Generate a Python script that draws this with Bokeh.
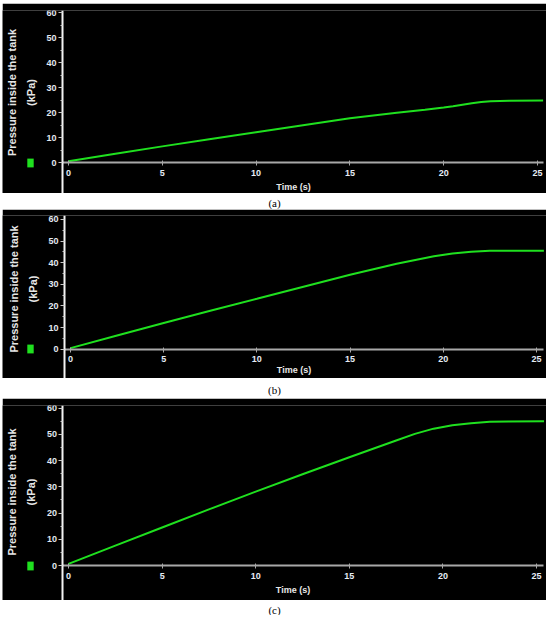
from bokeh.plotting import figure
from bokeh.layouts import column
from bokeh.models import Range1d, FixedTicker, Legend, LegendItem, LinearAxis
from bokeh.embed import file_html
from bokeh.resources import INLINE
from bokeh.core.properties import value

# ---- data ----
time_a = [0, 2.5, 5, 7.5, 10, 12.5, 15, 17.5, 19, 20, 20.5, 21, 21.5, 22, 22.5, 23.5, 25.3]
pressure_a = [0.5, 3.5, 6.5, 9.4, 12.2, 15.0, 17.8, 20.0, 21.2, 22.1, 22.6, 23.2, 23.8, 24.3, 24.6, 24.85, 24.9]

time_b = [0, 2.5, 5, 7.5, 10, 12.5, 15, 17.5, 18.5, 19.5, 20.5, 21.5, 22.5, 23.5, 25.4]
pressure_b = [0.5, 6.3, 12.1, 17.8, 23.3, 28.9, 34.4, 39.5, 41.3, 43.0, 44.3, 45.1, 45.5, 45.6, 45.6]

time_c = [0, 2.5, 5, 7.5, 10, 12.5, 15, 17.5, 18.5, 19.5, 20.5, 21.5, 22.5, 23.5, 25.4]
pressure_c = [0.6, 7.6, 14.5, 21.4, 28.2, 34.8, 41.3, 47.7, 50.2, 52.2, 53.5, 54.3, 54.8, 54.95, 55.0]

x_ticks = [0, 5, 10, 15, 20, 25]
y_ticks = [0, 10, 20, 30, 40, 50, 60]
y_minor_ticks = [5, 15, 25, 35, 45, 55]
captions = ["(a)", "(b)", "(c)"]
x_title = "Time (s)"
y_title = "Pressure inside the tank\n(kPa)"

GREEN = "#1fe01f"
W = 544
FONT = "Liberation Sans"


def panel(t, pr, height, top, xr, yr, y_axis_at, x_end, title_standoff):
    p = figure(width=W, height=height, x_range=Range1d(*xr), y_range=Range1d(*yr),
               output_backend="svg", toolbar_location=None,
               min_border_left=0, min_border_right=0, min_border_top=top,
               min_border_bottom=0,
               background_fill_color="black", border_fill_color="black",
               outline_line_color=None)
    p.grid.visible = False

    # x axis: line, ticks, tick labels (drawn at y = 0)
    xa = p.xaxis[0]
    xa.fixed_location = 0
    xa.bounds = (y_axis_at, x_end)
    xa.ticker = FixedTicker(ticks=x_ticks)
    xa.axis_line_color = "#a8a8a8"
    xa.axis_line_width = 2
    xa.major_tick_line_color = "#a8a8a8"
    xa.major_tick_in = 2
    xa.major_tick_out = 3
    xa.minor_tick_line_color = None
    xa.major_label_standoff = 4
    xa.major_label_text_font = FONT
    xa.major_label_text_font_style = "bold"
    xa.major_label_text_font_size = "9px"
    xa.major_label_text_color = "#e6ecf5"

    # x axis title
    xt = LinearAxis(fixed_location=0, ticker=FixedTicker(ticks=[]), bounds=(0, 24),
                    axis_line_color=None, major_tick_out=0, major_tick_in=0,
                    minor_tick_out=0, minor_tick_in=0, major_label_standoff=0,
                    axis_label=x_title, axis_label_standoff=title_standoff,
                    axis_label_text_font=FONT, axis_label_text_font_style="bold",
                    axis_label_text_font_size="9px", axis_label_text_color="#e8e8e8")
    p.add_layout(xt, "below")

    # y axis: line, ticks, tick labels
    ya = p.yaxis[0]
    ya.fixed_location = y_axis_at
    ya.ticker = FixedTicker(ticks=y_ticks, minor_ticks=y_minor_ticks)
    ya.axis_line_color = "#f4f4f4"
    ya.axis_line_width = 2
    ya.major_tick_line_color = "#c8c8c8"
    ya.major_tick_in = 0
    ya.major_tick_out = 4
    ya.minor_tick_line_color = "#c8c8c8"
    ya.minor_tick_in = 0
    ya.minor_tick_out = 2
    ya.major_label_standoff = 2
    ya.major_label_text_font = FONT
    ya.major_label_text_font_style = "bold"
    ya.major_label_text_font_size = "9px"
    ya.major_label_text_color = "#e2e8f0"

    # y axis title
    yt = LinearAxis(fixed_location=y_axis_at, ticker=FixedTicker(ticks=[]), bounds=(0, 56),
                    axis_line_color=None, major_tick_out=0, major_tick_in=0,
                    minor_tick_out=0, minor_tick_in=0, major_label_standoff=0,
                    axis_label=y_title, axis_label_standoff=26,
                    axis_label_text_font=FONT, axis_label_text_font_style="bold",
                    axis_label_text_font_size="11px", axis_label_text_line_height=1.55,
                    axis_label_text_color="#e6e6e6")
    p.add_layout(yt, "left")

    p.line(t, pr, line_color=GREEN, line_width=2)

    # hidden area renderer: only supplies the green legend swatch
    swatch = p.varea(x=t, y1=[0] * len(t), y2=pr, fill_color=GREEN, fill_alpha=1.0)
    swatch.visible = False
    frame_h = height - top
    zero_px = -yr[0] * frame_h / (yr[1] - yr[0])
    leg = Legend(items=[LegendItem(label=" ", renderers=[swatch])],
                 location=(24, int(round(zero_px - 5.5))),
                 glyph_width=8, glyph_height=11, label_width=0, label_height=11,
                 label_standoff=0, padding=0, margin=0, spacing=0,
                 border_line_alpha=0, background_fill_alpha=0,
                 label_text_font_size="1px", click_policy="none")
    p.add_layout(leg)
    return p


def caption(text, height, ypos):
    c = figure(width=W, height=height, x_range=Range1d(0, 1), y_range=Range1d(0, 1),
               output_backend="svg", toolbar_location=None,
               x_axis_location=None, y_axis_location=None, min_border=0,
               background_fill_color="white", border_fill_color="white",
               outline_line_color=None)
    c.grid.visible = False
    c.text(x=[0.5], y=[ypos], text=[text], text_font=value("Liberation Serif"),
           text_font_size="11px", text_align="center", text_baseline="middle",
           text_color="black")
    return c


pa = panel(time_a, pressure_a, 190, 7, (-3.518, 25.48), (-12.4, 61.0), -0.32, 25.32, 19)
ca = caption(captions[0], 16, 0.38)
pb = panel(time_b, pressure_b, 169, 6, (-3.648, 25.54), (-13.55, 61.85), -0.32, 25.38, 15)
cb = caption(captions[1], 20, 0.45)
pc = panel(time_c, pressure_c, 202, 7, (-3.526, 25.53), (-13.35, 61.03), -0.30, 25.37, 19)
cc = caption(captions[2], 15, 0.4)

layout = column(pa, ca, pb, cb, pc, cc, spacing=0, margin=(3, 4, 0, 2))
open("out.html", "w").write(file_html(layout, INLINE))
